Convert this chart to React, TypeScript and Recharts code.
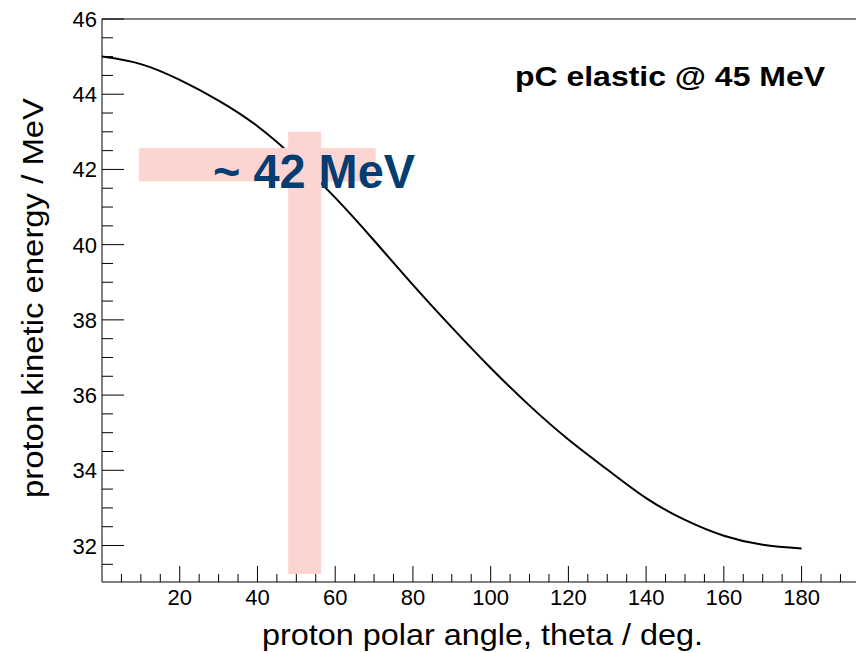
import React from "react";
import {
  LineChart,
  Line,
  XAxis,
  YAxis,
  ReferenceArea,
  ReferenceLine,
  Label,
} from "recharts";

// proton polar angle (deg) and kinetic energy (MeV)
const angles = [0, 10, 20, 30, 40, 50, 60, 70, 80, 90, 100, 110, 120, 130, 140, 150, 160, 170, 180];
const energies = [
  45.0, 44.8, 44.38, 43.83, 43.15, 42.27, 41.25, 40.11, 38.93, 37.8,
  36.72, 35.72, 34.82, 34.02, 33.26, 32.68, 32.26, 32.02, 31.92,
];

const xMajorTicks = [20, 40, 60, 80, 100, 120, 140, 160, 180];
const yMajorTicks = [32, 34, 36, 38, 40, 42, 44, 46];
const xDomain = [0, 194];
const yDomain = [31.03, 46];

// highlighted windows: angle acceptance and resulting energy
const angleBand = [47.9, 56.4];
const angleBandEnergy = [31.24, 43.0];
const energyBand = [41.69, 42.56];
const energyBandAngle = [9.6, 70.3];

const data = angles.map((theta, i) => ({ theta, energy: energies[i] }));

const xTicks: number[] = [];
for (let v = 5; v <= 190; v += 5) xTicks.push(v);
const yTicks: number[] = [];
for (let v = 31.5; v <= 46; v += 0.5) yTicks.push(v);

const FONT = "'Liberation Sans', Arial, Helvetica, sans-serif";
const PINK = "#fcd5d3";
const BLUE = "#033d72";

function XTick(props: any) {
  const { x, y, payload } = props;
  const major = xMajorTicks.includes(payload.value);
  return (
    <g>
      <line x1={x} x2={x} y1={y} y2={y - (major ? 16 : 8)} stroke="#000" strokeWidth={1} />
      {major && (
        <text x={x} y={y + 23} textAnchor="middle" fontSize={22} fontFamily={FONT} fill="#000">
          {payload.value}
        </text>
      )}
    </g>
  );
}

function YTick(props: any) {
  const { x, y, payload } = props;
  const major = yMajorTicks.includes(payload.value);
  return (
    <g>
      <line x1={x} x2={x + (major ? 22 : 11)} y1={y} y2={y} stroke="#000" strokeWidth={1} />
      {major && (
        <text x={x - 5} y={y + 8} textAnchor="end" fontSize={22} fontFamily={FONT} fill="#000">
          {payload.value}
        </text>
      )}
    </g>
  );
}

export default function App() {
  return (
    <div style={{ position: "absolute", left: 0, top: 0, background: "#fff" }}>
      <LineChart width={856} height={653} data={data} margin={{ top: 19, right: 0, bottom: 0, left: 0 }}>
        <XAxis
          dataKey="theta"
          type="number"
          domain={xDomain}
          ticks={xTicks}
          interval={0}
          allowDataOverflow
          height={71}
          tickSize={0}
          tickMargin={0}
          tickLine={false}
          axisLine={{ stroke: "#000", strokeWidth: 1 }}
          tick={(p: any) => <XTick {...p} />}
        >
          <Label
            content={() => (
              <text x={262} y={645} fontSize={30} fontFamily={FONT} fill="#000" textLength={441} lengthAdjust="spacingAndGlyphs">
                proton polar angle, theta / deg.
              </text>
            )}
          />
        </XAxis>
        <YAxis
          type="number"
          domain={yDomain}
          ticks={yTicks}
          interval={0}
          allowDataOverflow
          width={102}
          tickSize={0}
          tickMargin={0}
          tickLine={false}
          axisLine={{ stroke: "#000", strokeWidth: 1 }}
          tick={(p: any) => <YTick {...p} />}
        >
          <Label
            content={() => (
              <text
                x={43}
                y={298}
                transform="rotate(-90, 43, 298)"
                textAnchor="middle"
                fontSize={30}
                fontFamily={FONT}
                fill="#000"
                textLength={400}
                lengthAdjust="spacingAndGlyphs"
              >
                proton kinetic energy / MeV
              </text>
            )}
          />
        </YAxis>
        <ReferenceLine y={46} stroke="#000" strokeWidth={1} />
        <Line
          type="natural"
          dataKey="energy"
          stroke="#000"
          strokeWidth={2}
          dot={false}
          activeDot={false}
          isAnimationActive={false}
        />
        <ReferenceArea
          x1={energyBandAngle[0]}
          x2={energyBandAngle[1]}
          y1={energyBand[0]}
          y2={energyBand[1]}
          fill={PINK}
          fillOpacity={1}
          stroke="#fbdcc8"
          strokeWidth={1}
          zIndex={450}
        />
        <ReferenceArea
          x1={angleBand[0]}
          x2={angleBand[1]}
          y1={angleBandEnergy[0]}
          y2={angleBandEnergy[1]}
          fill={PINK}
          fillOpacity={1}
          stroke="none"
          zIndex={460}
          label={() => (
            <g>
              <text x={213} y={188} fontSize={49} fontWeight="bold" fontFamily={FONT} fill={BLUE} textLength={202} lengthAdjust="spacingAndGlyphs">
                ~ 42 MeV
              </text>
              <text x={515} y={86} fontSize={28} fontWeight="bold" fontFamily={FONT} fill="#000" textLength={310} lengthAdjust="spacingAndGlyphs">
                pC elastic @ 45 MeV
              </text>
            </g>
          )}
        />
      </LineChart>
    </div>
  );
}
